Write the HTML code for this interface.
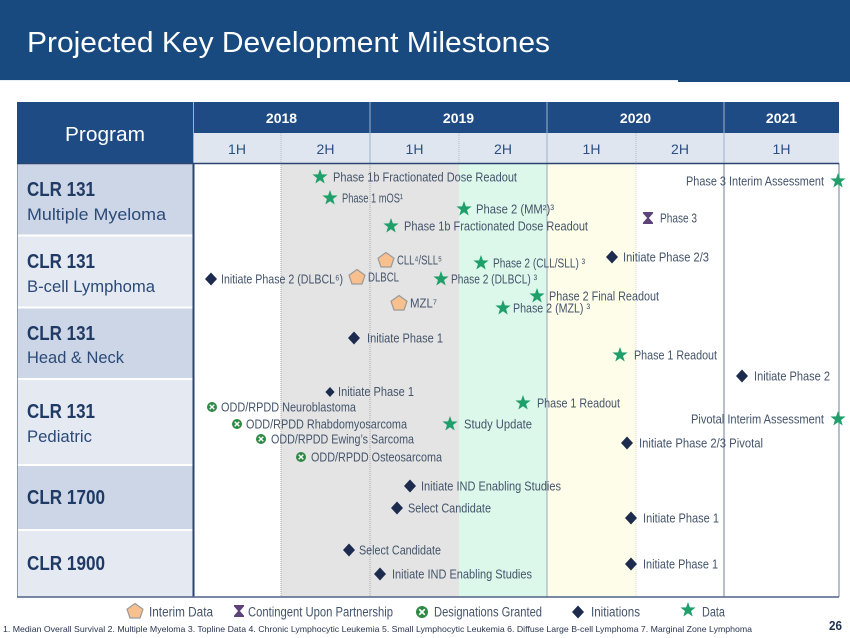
<!DOCTYPE html>
<html>
<head>
<meta charset="utf-8">
<style>
html,body{margin:0;padding:0;background:#fff;}
svg{display:block;}
text{font-family:"Liberation Sans","DejaVu Sans",sans-serif;}
.lb{font-size:12.5px;fill:#44546a;}
.lg{font-size:13.5px;fill:#44546a;}
</style>
</head>
<body>
<svg width="850" height="638" viewBox="0 0 850 638" xmlns="http://www.w3.org/2000/svg">
<defs>
  <polygon id="star" points="0,-8 1.9,-2.6 7.6,-2.5 3.05,1 4.7,6.5 0,3.2 -4.7,6.5 -3.05,1 -7.6,-2.5 -1.9,-2.6" fill="#1fa06a"/>
  <polygon id="dia" points="0,-6.5 6,0 0,6.5 -6,0" fill="#1c2b4e"/>
  <polygon id="dias" points="0,-5 4.6,0 0,5 -4.6,0" fill="#1c2b4e"/>
  <g id="pent"><polygon points="0,-7.5 8,-1.8 5,7 -5,7 -8,-1.8" fill="#f8c08e" stroke="#9a9a9a" stroke-width="1.2" stroke-linejoin="round"/></g>
  <g id="xc"><circle r="5" fill="#2c8a45"/><path d="M-2.3,-2.3 L2.3,2.3 M2.3,-2.3 L-2.3,2.3" stroke="#fff" stroke-width="1.4"/></g>
  <g id="hg"><path d="M-5,-6 H5 V-4.6 L0.9,0 L5,4.6 V6 H-5 V4.6 L-0.9,0 L-5,-4.6 Z" fill="#5c4478"/></g>
</defs>

<!-- Title band -->
<rect x="0" y="0" width="850" height="80" fill="#184a7f"/>
<rect x="678" y="80" width="172" height="2" fill="#184a7f"/>
<line x1="0" y1="80.5" x2="678" y2="80.5" stroke="#e8eef5" stroke-width="1"/>
<text x="27" y="52" font-size="29" fill="#ffffff" textLength="523" lengthAdjust="spacingAndGlyphs">Projected Key Development Milestones</text>

<!-- Table header -->
<rect x="17" y="102" width="176" height="61" fill="#1f4b85"/>
<rect x="193" y="102" width="646" height="31" fill="#1f4b85"/>
<rect x="193" y="133" width="646" height="30" fill="#dfe6f0"/>
<text x="105" y="141" font-size="20" fill="#fff" text-anchor="middle" textLength="80" lengthAdjust="spacingAndGlyphs">Program</text>
<g stroke="#9fb2cc" stroke-width="1">
  <line x1="193.5" y1="102" x2="193.5" y2="163"/>
  <line x1="370" y1="102" x2="370" y2="163"/>
  <line x1="547" y1="102" x2="547" y2="163"/>
  <line x1="724" y1="102" x2="724" y2="163"/>
</g>
<g stroke="#b5bcc6" stroke-width="1" stroke-dasharray="1,1">
  <line x1="281" y1="133" x2="281" y2="163"/>
  <line x1="459" y1="133" x2="459" y2="163"/>
  <line x1="636" y1="133" x2="636" y2="163"/>
</g>
<g font-size="14" font-weight="bold" fill="#fff" text-anchor="middle">
  <text x="281.5" y="123">2018</text>
  <text x="458.5" y="123">2019</text>
  <text x="635.5" y="123">2020</text>
  <text x="781.5" y="123">2021</text>
</g>
<g font-size="14" fill="#2a4f85" text-anchor="middle">
  <text x="237" y="154">1H</text>
  <text x="325.5" y="154">2H</text>
  <text x="414.5" y="154">1H</text>
  <text x="503" y="154">2H</text>
  <text x="591.5" y="154">1H</text>
  <text x="680" y="154">2H</text>
  <text x="781.5" y="154">1H</text>
</g>

<!-- Left program column -->
<rect x="17" y="163" width="176" height="72" fill="#cdd6e6"/>
<rect x="17" y="235" width="176" height="72" fill="#e4e9f2"/>
<rect x="17" y="307" width="176" height="72" fill="#cdd6e6"/>
<rect x="17" y="379" width="176" height="86" fill="#e4e9f2"/>
<rect x="17" y="465" width="176" height="65" fill="#cdd6e6"/>
<rect x="17" y="530" width="176" height="67" fill="#e4e9f2"/>
<g stroke="#ffffff" stroke-width="2">
  <line x1="17" y1="235.5" x2="193" y2="235.5"/>
  <line x1="17" y1="307.5" x2="193" y2="307.5"/>
  <line x1="17" y1="379" x2="193" y2="379"/>
  <line x1="17" y1="465" x2="193" y2="465"/>
  <line x1="17" y1="530" x2="193" y2="530"/>
</g>
<line x1="17.5" y1="163" x2="17.5" y2="597" stroke="#8d9bb0" stroke-width="1"/>

<g fill="#1f3a64">
  <text x="27" y="196" font-size="20" font-weight="bold" textLength="68" lengthAdjust="spacingAndGlyphs">CLR 131</text>
  <text x="27" y="220" font-size="16.5" fill="#2b4a78" textLength="139" lengthAdjust="spacingAndGlyphs">Multiple Myeloma</text>
  <text x="27" y="268" font-size="20" font-weight="bold" textLength="68" lengthAdjust="spacingAndGlyphs">CLR 131</text>
  <text x="27" y="292" font-size="16.5" fill="#2b4a78" textLength="128" lengthAdjust="spacingAndGlyphs">B-cell Lymphoma</text>
  <text x="27" y="340" font-size="20" font-weight="bold" textLength="68" lengthAdjust="spacingAndGlyphs">CLR 131</text>
  <text x="27" y="363" font-size="16.5" fill="#2b4a78" textLength="97" lengthAdjust="spacingAndGlyphs">Head &amp; Neck</text>
  <text x="27" y="418" font-size="20" font-weight="bold" textLength="68" lengthAdjust="spacingAndGlyphs">CLR 131</text>
  <text x="27" y="442" font-size="16.5" fill="#2b4a78" textLength="65" lengthAdjust="spacingAndGlyphs">Pediatric</text>
  <text x="27" y="504" font-size="20" font-weight="bold" textLength="78" lengthAdjust="spacingAndGlyphs">CLR 1700</text>
  <text x="27" y="570" font-size="20" font-weight="bold" textLength="78" lengthAdjust="spacingAndGlyphs">CLR 1900</text>
</g>

<!-- Timeline body -->
<rect x="193" y="163" width="646" height="434" fill="#ffffff"/>
<rect x="281" y="163" width="178" height="434" fill="#e4e4e4"/>
<rect x="459" y="163" width="88" height="434" fill="#dcf8ea"/>
<rect x="547" y="163" width="89" height="434" fill="#fefde9"/>
<g stroke="#a8a8a8" stroke-width="1" stroke-dasharray="1,1">
  <line x1="281" y1="163" x2="281" y2="597"/>
  <line x1="370" y1="163" x2="370" y2="597"/>
</g>
<line x1="636" y1="163" x2="636" y2="597" stroke="#d8d8d0" stroke-width="1" stroke-dasharray="1,1"/>
<line x1="547" y1="163" x2="547" y2="597" stroke="#9aa7b8" stroke-width="1"/>
<line x1="724" y1="163" x2="724" y2="597" stroke="#8795a8" stroke-width="1.2"/>
<line x1="839" y1="163" x2="839" y2="597" stroke="#8795a8" stroke-width="1.2"/>
<line x1="193.5" y1="163" x2="193.5" y2="597" stroke="#2a4472" stroke-width="2"/>
<line x1="17" y1="163.5" x2="839" y2="163.5" stroke="#2a4472" stroke-width="1.5"/>
<line x1="17" y1="597" x2="839" y2="597" stroke="#4f6488" stroke-width="1.5"/>

<!-- CLR 131 Multiple Myeloma -->
<use href="#star" x="320" y="177"/>
<text class="lb" x="333" y="181.5" textLength="184" lengthAdjust="spacingAndGlyphs">Phase 1b Fractionated Dose Readout</text>
<use href="#star" x="330" y="198"/>
<text class="lb" x="342" y="202.5" textLength="61" lengthAdjust="spacingAndGlyphs">Phase 1 mOS¹</text>
<use href="#star" x="464" y="209"/>
<text class="lb" x="476" y="213.5" textLength="78" lengthAdjust="spacingAndGlyphs">Phase 2 (MM²)³</text>
<use href="#star" x="391" y="226"/>
<text class="lb" x="404" y="230.5" textLength="184" lengthAdjust="spacingAndGlyphs">Phase 1b Fractionated Dose Readout</text>
<text class="lb" x="686" y="185.5" textLength="138" lengthAdjust="spacingAndGlyphs">Phase 3 Interim Assessment</text>
<use href="#star" x="838" y="181"/>
<use href="#hg" x="648" y="218"/>
<text class="lb" x="660" y="222.5" textLength="37" lengthAdjust="spacingAndGlyphs">Phase 3</text>

<!-- CLR 131 B-cell Lymphoma -->
<use href="#dia" x="211" y="279"/>
<text class="lb" x="221" y="283.5" textLength="122" lengthAdjust="spacingAndGlyphs">Initiate Phase 2 (DLBCL⁶)</text>
<use href="#pent" x="357" y="277"/>
<text class="lb" x="368" y="281.5" textLength="31" lengthAdjust="spacingAndGlyphs">DLBCL</text>
<use href="#pent" x="386" y="260"/>
<text class="lb" x="397" y="264.5" textLength="45" lengthAdjust="spacingAndGlyphs">CLL⁴/SLL⁵</text>
<use href="#pent" x="399" y="303"/>
<text class="lb" x="410" y="307.5" textLength="27" lengthAdjust="spacingAndGlyphs">MZL⁷</text>
<use href="#star" x="441" y="279"/>
<text class="lb" x="451" y="283.5" textLength="86" lengthAdjust="spacingAndGlyphs">Phase 2 (DLBCL) ³</text>
<use href="#star" x="481" y="263"/>
<text class="lb" x="493" y="267.5" textLength="92" lengthAdjust="spacingAndGlyphs">Phase 2 (CLL/SLL) ³</text>
<use href="#star" x="503" y="308"/>
<text class="lb" x="513" y="312.5" textLength="77" lengthAdjust="spacingAndGlyphs">Phase 2 (MZL) ³</text>
<use href="#star" x="537" y="296"/>
<text class="lb" x="549" y="300.5" textLength="110" lengthAdjust="spacingAndGlyphs">Phase 2 Final Readout</text>
<use href="#dia" x="612" y="257"/>
<text class="lb" x="623" y="261.5" textLength="86" lengthAdjust="spacingAndGlyphs">Initiate Phase 2/3</text>

<!-- CLR 131 Head & Neck -->
<use href="#dia" x="354" y="338"/>
<text class="lb" x="367" y="342.5" textLength="76" lengthAdjust="spacingAndGlyphs">Initiate Phase 1</text>
<use href="#star" x="620" y="355"/>
<text class="lb" x="634" y="359.5" textLength="83" lengthAdjust="spacingAndGlyphs">Phase 1 Readout</text>
<use href="#dia" x="742" y="376"/>
<text class="lb" x="754" y="380.5" textLength="76" lengthAdjust="spacingAndGlyphs">Initiate Phase 2</text>

<!-- CLR 131 Pediatric -->
<use href="#dias" x="330" y="392"/>
<text class="lb" x="338" y="396" textLength="76" lengthAdjust="spacingAndGlyphs">Initiate Phase 1</text>
<use href="#xc" x="212" y="407"/>
<text class="lb" x="221" y="411.5" textLength="135" lengthAdjust="spacingAndGlyphs">ODD/RPDD Neuroblastoma</text>
<use href="#xc" x="237" y="424"/>
<text class="lb" x="246" y="428.5" textLength="161" lengthAdjust="spacingAndGlyphs">ODD/RPDD Rhabdomyosarcoma</text>
<use href="#xc" x="261" y="439"/>
<text class="lb" x="271" y="443.5" textLength="143" lengthAdjust="spacingAndGlyphs">ODD/RPDD Ewing’s Sarcoma</text>
<use href="#xc" x="301" y="457"/>
<text class="lb" x="311" y="461.5" textLength="131" lengthAdjust="spacingAndGlyphs">ODD/RPDD Osteosarcoma</text>
<use href="#star" x="450" y="424"/>
<text class="lb" x="464" y="428.5" textLength="68" lengthAdjust="spacingAndGlyphs">Study Update</text>
<use href="#star" x="523" y="403"/>
<text class="lb" x="537" y="407.5" textLength="83" lengthAdjust="spacingAndGlyphs">Phase 1 Readout</text>
<text class="lb" x="691" y="423.5" textLength="133" lengthAdjust="spacingAndGlyphs">Pivotal Interim Assessment</text>
<use href="#star" x="838" y="419"/>
<use href="#dia" x="627" y="443"/>
<text class="lb" x="639" y="447.5" textLength="124" lengthAdjust="spacingAndGlyphs">Initiate Phase 2/3 Pivotal</text>

<!-- CLR 1700 -->
<use href="#dia" x="410" y="486"/>
<text class="lb" x="421" y="490.5" textLength="140" lengthAdjust="spacingAndGlyphs">Initiate IND Enabling Studies</text>
<use href="#dia" x="397" y="508"/>
<text class="lb" x="408" y="512.5" textLength="83" lengthAdjust="spacingAndGlyphs">Select Candidate</text>
<use href="#dia" x="631" y="518"/>
<text class="lb" x="643" y="522.5" textLength="76" lengthAdjust="spacingAndGlyphs">Initiate Phase 1</text>

<!-- CLR 1900 -->
<use href="#dia" x="349" y="550"/>
<text class="lb" x="359" y="554.5" textLength="82" lengthAdjust="spacingAndGlyphs">Select Candidate</text>
<use href="#dia" x="380" y="574"/>
<text class="lb" x="392" y="578.5" textLength="140" lengthAdjust="spacingAndGlyphs">Initiate IND Enabling Studies</text>
<use href="#dia" x="631" y="564"/>
<text class="lb" x="643" y="568.5" textLength="75" lengthAdjust="spacingAndGlyphs">Initiate Phase 1</text>

<!-- Legend -->
<use href="#pent" x="135" y="611"/>
<text class="lg" x="149" y="616.5" textLength="64" lengthAdjust="spacingAndGlyphs">Interim Data</text>
<use href="#hg" x="239" y="611"/>
<text class="lg" x="248" y="616.5" textLength="145" lengthAdjust="spacingAndGlyphs">Contingent Upon Partnership</text>
<g transform="translate(422,612) scale(1.2)"><use href="#xc"/></g>
<text class="lg" x="434" y="616.5" textLength="108" lengthAdjust="spacingAndGlyphs">Designations Granted</text>
<use href="#dia" x="578" y="612"/>
<text class="lg" x="591" y="616.5" textLength="49" lengthAdjust="spacingAndGlyphs">Initiations</text>
<use href="#star" x="688" y="610"/>
<text class="lg" x="702" y="616.5" textLength="23" lengthAdjust="spacingAndGlyphs">Data</text>

<!-- Footnote -->
<text x="3" y="632" font-size="8.5" fill="#2a3550" textLength="749" lengthAdjust="spacingAndGlyphs">1. Median Overall Survival 2. Multiple Myeloma 3. Topline Data 4. Chronic Lymphocytic Leukemia 5. Small Lymphocytic Leukemia 6. Diffuse Large B-cell Lymphoma 7. Marginal Zone Lymphoma</text>
<text x="829" y="630" font-size="13" font-weight="bold" fill="#1f2f4f" textLength="13" lengthAdjust="spacingAndGlyphs">26</text>
</svg>
</body>
</html>
